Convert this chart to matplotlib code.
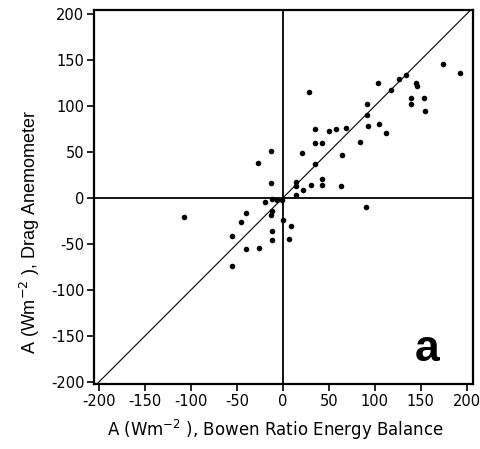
import numpy as np
import matplotlib
matplotlib.use("Agg")
from matplotlib import pyplot as plt

# A (W m-2) from Bowen ratio energy balance (x) vs drag anemometer (y)
bowen = [-27, -13, -13, 14, 14, 14, 22, 21, 28, 30,
         35, 35, 35, 42, 42, 43, 50, 58, 64, 63,
         69, 84, 91, 91, 92, 103, 105, 112, 118, 126,
         134, 139, 139, 145, 146, 153, 154, 174, 193,
         -108, -55, -46, -40, -40, -26, -20, -12, -12, -13,
         -12, -12, -6, -1, 0, 9, 7, -55, 90]
drag = [38, 51, 16, 17, 13, 3, 8, 49, 115, 14,
        75, 60, 37, 60, 21, 14, 73, 75, 47, 13,
        76, 61, 102, 90, 78, 125, 80, 71, 117, 129,
        134, 108, 102, 125, 122, 108, 94, 145, 136,
        -21, -41, -26, -17, -56, -55, -5, -1, -14, -19,
        -36, -46, -2, -2, -24, -31, -45, -74, -10]
ticks = [-200, -150, -100, -50, 0, 50, 100, 150, 200]

plt.rcParams['font.family'] = ['DejaVu Sans']
plt.rcParams['axes.unicode_minus'] = False

fig = plt.figure(figsize=(4.8, 4.49), dpi=100)
ax = fig.add_axes([0.196, 0.145, 0.789, 0.833])

ax.plot([-220, 220], [-220, 220], color='black', lw=0.8, zorder=1)
ax.axhline(0, color='black', lw=1.3, zorder=1)
ax.axvline(0, color='black', lw=1.3, zorder=1)
ax.scatter(bowen, drag, s=16, color='black', zorder=3, linewidths=0)

ax.set_xlim(-205.4, 206.5)
ax.set_ylim(-202.2, 204.3)
ax.set_xticks(ticks)
ax.set_yticks(ticks)
ax.tick_params(direction='out', length=5, width=1.2, labelsize=10.5, pad=2)
for s in ax.spines.values():
    s.set_linewidth(1.6)

# panel letter
ax.text(157, -165, 'a', fontsize=32, fontweight='bold', family='Liberation Sans',
        ha='center', va='center')

fig.text(275 / 480, 1 - 430 / 449, 'A (Wm$^{-2}$ ), Bowen Ratio Energy Balance',
         fontsize=12, ha='center', va='center')
fig.text(30 / 480, 1 - 232 / 449, 'A (Wm$^{-2}$ ), Drag Anemometer',
         fontsize=13, ha='center', va='center', rotation=90, family='Liberation Sans')

fig.savefig('out.png', dpi=100)
